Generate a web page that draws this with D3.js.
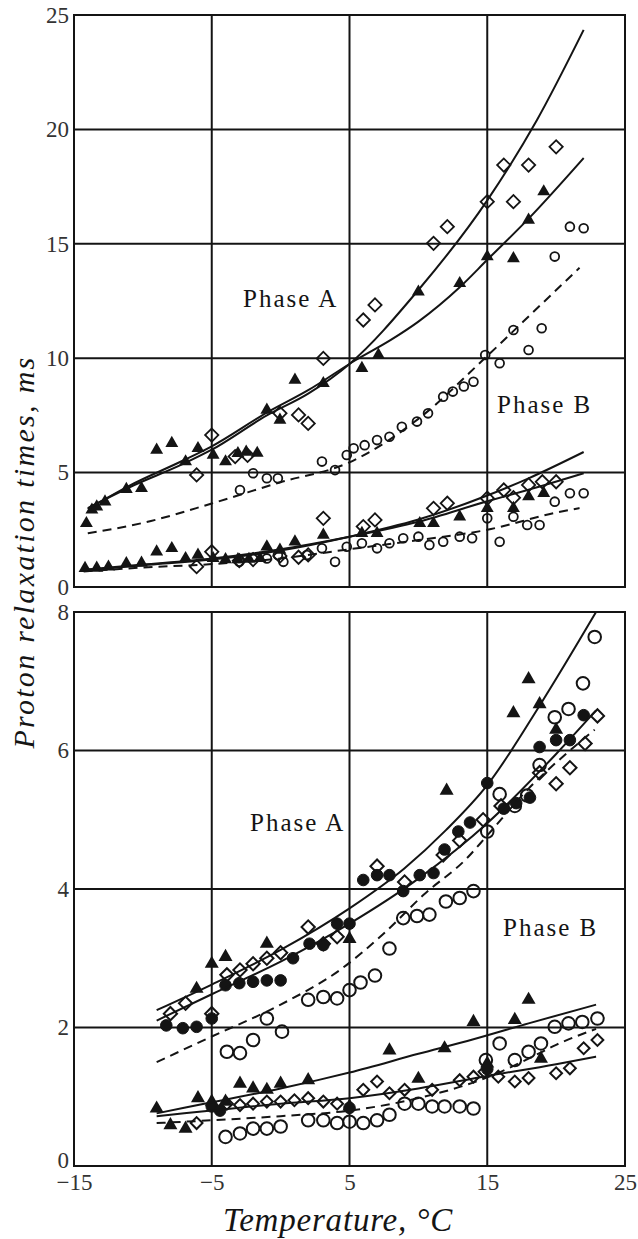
<!DOCTYPE html>
<html><head><meta charset="utf-8">
<script src="https://cdn.jsdelivr.net/npm/d3@7/dist/d3.min.js"></script>
<style>
html,body{margin:0;padding:0;background:#fff;}
svg{display:block;}
</style></head>
<body>
<svg id="chart" width="638" height="1239"></svg>
<script>
// ---------- tick labels ----------
const xTicks = [-15, -5, 5, 15, 25];
const topYTicks = [0, 5, 10, 15, 20, 25];
const botYTicks = [0, 2, 4, 6, 8];

// ---------- TOP PANEL : upper group ----------
const top1Triangles = [[-14.1,2.78],[-13.7,3.37],[-13.35,3.51],[-12.75,3.73],[-11.2,4.27],[-10.1,4.31],[-9.0,5.99],[-7.9,6.28],[-6.9,5.48],[-6.0,6.06],[-4.9,5.77],[-4.0,5.48],[-3.1,5.84],[-2.5,5.9],[-1.7,5.85],[-1.0,7.74],[-0.05,7.3],[1.04,9.05],[3.1,8.9],[5.9,9.56],[7.1,10.14],[10.0,12.9],[13.0,13.27],[15.0,14.44],[16.9,14.36],[18.0,16.04],[19.1,17.28]];
const top1Diamonds = [[-6.1,4.9],[-5.0,6.64],[-3.3,5.7],[-2.4,5.75],[-0.05,7.59],[1.3,7.52],[2.0,7.15],[3.1,9.99],[6.0,11.67],[6.85,12.33],[11.1,15.02],[12.1,15.75],[15.0,16.84],[16.2,18.44],[16.9,16.84],[18.0,18.44],[20.0,19.24]];
const top1Circles = [[-2.95,4.24],[-2.0,4.97],[-1.0,4.75],[-0.2,4.75],[3.0,5.48],[3.95,5.11],[4.8,5.77],[5.3,6.06],[6.1,6.2],[7.0,6.42],[7.9,6.57],[8.8,7.0],[9.9,7.23],[10.7,7.59],[11.8,8.32],[12.5,8.54],[13.3,8.76],[14.0,8.97],[14.85,10.14],[15.9,9.78],[16.9,11.23],[18.0,10.36],[18.95,11.31],[19.9,14.44],[21.0,15.75],[22.0,15.68]];
const top1CurveA = [[-14,3.45],[-11,4.35],[-7,5.4],[-5,6.0],[-1,7.5],[2,8.45],[5,9.75],[10,12.98],[15,16.9],[18.6,20.4],[22,24.35]];
const top1CurveB = [[-14,3.4],[-11,4.42],[-7,5.55],[-5,6.15],[-1,7.62],[2,8.6],[5.4,9.9],[8,10.8],[10,11.6],[13,13.1],[15,14.3],[18,16.1],[22,18.75]];
const top1Dashed = [[-14,2.35],[-10,2.8],[-5,3.65],[0,4.58],[5,5.45],[10,7.35],[15,10.1],[19,12.4],[21.7,13.95]];

// ---------- TOP PANEL : lower group ----------
const top2Triangles = [[-14.2,0.82],[-13.35,0.83],[-12.5,0.88],[-11.2,1.03],[-10.1,1.05],[-9.0,1.54],[-7.9,1.69],[-6.9,1.25],[-6.0,1.4],[-4.9,1.25],[-4.0,1.2],[-3.1,1.2],[-2.3,1.22],[-1.5,1.25],[-1.0,1.76],[-0.05,1.62],[1.04,1.98],[3.1,2.27],[5.9,2.35],[7.0,2.35],[10.1,2.78],[11.1,2.78],[13.0,3.07],[15.0,3.44],[16.9,3.44],[18.0,3.95],[19.1,4.1]];
const top2Diamonds = [[-6.1,0.89],[-5.0,1.54],[-3.0,1.15],[-2.0,1.2],[-0.05,1.35],[1.3,1.3],[2.0,1.4],[3.1,3.0],[6.0,2.64],[6.85,2.93],[11.1,3.44],[12.1,3.66],[15.0,3.88],[16.2,4.24],[16.9,3.9],[18.0,4.46],[19.0,4.6],[20.0,4.6]];
const top2Circles = [[-3.0,1.1],[-1.0,1.25],[-0.2,1.4],[0.2,1.1],[1.9,1.4],[3.0,1.69],[3.95,1.1],[4.8,1.76],[5.9,1.91],[7.0,1.69],[7.9,1.91],[8.9,2.13],[10.0,2.2],[10.8,1.84],[11.8,1.98],[13.0,2.2],[13.9,2.13],[15.0,3.0],[15.9,1.98],[16.9,3.07],[17.9,2.71],[18.8,2.71],[19.9,3.73],[21.0,4.1],[22.0,4.1]];
const top2CurveA = [[-14.3,0.72],[-10,0.95],[-5,1.2],[0,1.6],[5,2.2],[10,2.95],[15,4.0],[18,4.75],[22,5.9]];
const top2CurveB = [[-14.3,0.76],[-10,0.98],[-5,1.25],[0,1.65],[5,2.2],[10,2.85],[15,3.75],[18,4.25],[22,4.97]];
const top2Dashed = [[-14.3,0.68],[-10,0.85],[-5,1.0],[0,1.25],[5,1.65],[10,2.05],[15,2.5],[20,3.25],[21.7,3.45]];

// ---------- BOTTOM PANEL : upper group ----------
const bot1Triangles = [[-6.1,2.56],[-5.0,2.92],[-4.0,3.02],[-1.0,3.21],[5.0,3.28],[12.05,5.42],[16.9,6.54],[18.0,7.03],[18.8,6.67],[20.0,6.3]];
const bot1FilledCircles = [[-8.3,2.03],[-7.1,1.99],[-6.1,2.01],[-5.0,2.13],[-4.0,2.61],[-3.0,2.64],[-2.0,2.66],[-1.0,2.68],[0.0,2.68],[0.9,3.0],[2.1,3.21],[3.1,3.19],[4.1,3.5],[5.0,3.5],[6.0,4.13],[7.0,4.2],[7.9,4.2],[8.9,3.97],[10.1,4.2],[11.1,4.23],[11.9,4.57],[12.9,4.83],[13.75,4.96],[15.0,5.53],[16.2,5.16],[17.1,5.24],[18.1,5.32],[18.8,6.05],[20.0,6.15],[21.0,6.15],[22.0,6.51]];
const bot1Diamonds = [[-8.0,2.2],[-6.9,2.35],[-5.0,2.2],[-3.9,2.76],[-2.95,2.83],[-2.0,2.92],[-1.0,3.0],[0.0,3.08],[2.0,3.45],[3.1,3.21],[4.1,3.31],[7.0,4.33],[9.0,4.1],[11.8,4.49],[13.0,4.7],[14.7,5.0],[16.0,5.2],[18.8,5.68],[20.0,5.52],[21.0,5.75],[22.1,6.1],[23.0,6.5]];
const bot1Circles = [[-3.9,1.65],[-2.95,1.63],[-2.0,1.82],[-1.0,2.13],[0.1,1.94],[2.0,2.4],[3.1,2.44],[4.1,2.42],[5.0,2.54],[5.8,2.65],[6.85,2.75],[7.9,3.14],[8.9,3.58],[9.9,3.61],[10.8,3.63],[12.0,3.82],[13.0,3.87],[14.0,3.97],[15.0,4.83],[15.9,5.37],[17.0,5.2],[17.9,5.35],[18.8,5.79],[19.9,6.48],[20.9,6.6],[21.95,6.97],[22.8,7.64]];
const bot1CurveA = [[-9,2.25],[-5,2.62],[0,3.12],[5,3.72],[9,4.3],[12,4.85],[15,5.5],[18.9,6.68],[22.9,8.0]];
const bot1CurveB = [[-9,2.1],[-5,2.48],[0,2.95],[5,3.5],[10,4.15],[15,4.95],[20,5.95],[22.9,6.58]];
const bot1Dashed = [[-9,1.5],[-5,1.87],[0,2.33],[4.3,2.83],[7.45,3.35],[10.4,3.92],[13.5,4.44],[14.9,4.75],[18,5.45],[21,6.0],[22.8,6.3]];

// ---------- BOTTOM PANEL : lower group ----------
const bot2Triangles = [[-9.0,0.83],[-8.0,0.59],[-6.9,0.54],[-6.0,0.98],[-5.0,0.93],[-4.0,0.93],[-2.95,1.19],[-2.0,1.12],[-1.0,1.1],[0.0,1.19],[2.0,1.24],[5.0,0.86],[7.9,1.67],[10.0,1.26],[11.9,1.7],[14.0,2.08],[15.0,1.48],[17.0,2.11],[18.0,2.4],[18.9,1.55]];
const bot2FilledCircles = [[-5.0,0.86],[-4.4,0.8],[5.0,0.84],[15.0,1.4]];
const bot2Diamonds = [[-6.1,0.62],[-3.9,0.9],[-2.95,0.88],[-2.0,0.9],[-1.0,0.93],[0.0,0.93],[1.0,0.95],[2.0,0.98],[3.1,0.93],[4.1,0.9],[6.0,1.1],[7.0,1.22],[7.9,1.05],[9.0,1.1],[11.0,1.1],[13.0,1.24],[14.0,1.29],[14.8,1.36],[15.8,1.29],[17.0,1.22],[18.0,1.27],[20.0,1.34],[21.0,1.41],[22.0,1.7],[23.0,1.82]];
const bot2Circles = [[-4.0,0.42],[-2.95,0.47],[-2.0,0.54],[-1.0,0.54],[0.0,0.57],[2.0,0.66],[3.1,0.66],[4.1,0.62],[5.0,0.64],[6.0,0.62],[7.0,0.66],[7.9,0.74],[9.0,0.9],[10.0,0.9],[11.0,0.86],[11.9,0.86],[13.0,0.86],[14.0,0.83],[14.9,1.53],[15.9,1.77],[17.0,1.53],[18.0,1.65],[18.9,1.77],[19.9,2.01],[20.9,2.06],[21.9,2.08],[23.0,2.13]];
const bot2CurveA = [[-9,0.76],[-5,0.92],[0,1.12],[2.7,1.24],[5,1.35],[10,1.62],[14,1.83],[18,2.06],[22.9,2.33]];
const bot2CurveB = [[-9,0.72],[-5,0.8],[0,0.9],[5,0.98],[10,1.12],[15,1.3],[20,1.47],[22.9,1.58]];
const bot2Dashed = [[-9,0.62],[-5,0.66],[0,0.72],[5,0.8],[10,0.98],[15,1.28],[18,1.55],[20,1.75],[22.9,1.98]];

// ---------- drawing ----------
const svg = d3.select('#chart');
const INK = '#141414';
const FONT = "'Liberation Serif','Times New Roman',serif";

const x = d3.scaleLinear().domain([-15, 25]).range([74, 625]);
const yTop = d3.scaleLinear().domain([0, 25]).range([587, 15]);
const yBot = d3.scaleLinear().domain([0, 8]).range([1166, 612]);

function panel(y, yTicks, showX) {
  const g = svg.append('g');
  const [y0, y1] = y.range();
  g.append('g').selectAll('line').data(yTicks).join('line')
    .attr('x1', x.range()[0]).attr('x2', x.range()[1])
    .attr('y1', d => y(d)).attr('y2', d => y(d))
    .attr('stroke', INK).attr('stroke-width', 2);
  g.append('g').selectAll('line').data(xTicks).join('line')
    .attr('x1', d => x(d)).attr('x2', d => x(d))
    .attr('y1', y0).attr('y2', y1)
    .attr('stroke', INK).attr('stroke-width', 2);
  const ya = g.append('g').attr('transform', `translate(${x.range()[0]},0)`)
    .call(d3.axisLeft(y).tickValues(yTicks).tickSize(0).tickPadding(5).tickFormat(d3.format('d')));
  ya.select('.domain').remove();
  ya.selectAll('text').attr('font-family', FONT).attr('font-size', 23).attr('fill', '#333');
  if (showX) {
    // lift the bottom "0" a little, as in the reference, so it clears "−15"
    ya.selectAll('.tick').filter(d => d === 0).select('text').attr('dy', '0.05em');
    const xa = g.append('g').attr('transform', `translate(0,${y0})`)
      .call(d3.axisBottom(x).tickValues(xTicks).tickSize(0).tickPadding(8));
    xa.select('.domain').remove();
    xa.selectAll('text').attr('font-family', FONT).attr('font-size', 23).attr('fill', '#333');
  }
  return g;
}

const gTop = panel(yTop, topYTicks, false);
const gBot = panel(yBot, botYTicks, true);

function triangles(g, y, data, size) {
  g.append('g').selectAll('path').data(data).join('path')
    .attr('d', d3.symbol().type(d3.symbolTriangle).size(size))
    .attr('transform', d => `translate(${x(d[0])},${y(d[1])})`)
    .attr('fill', INK);
}
function diamonds(g, y, data, size, sw) {
  g.append('g').selectAll('path').data(data).join('path')
    .attr('d', d3.symbol().type(d3.symbolSquare).size(size))
    .attr('transform', d => `translate(${x(d[0])},${y(d[1])}) rotate(45)`)
    .attr('fill', 'none').attr('stroke', INK).attr('stroke-width', sw);
}
function circles(g, y, data, r, sw, filled) {
  g.append('g').selectAll('circle').data(data).join('circle')
    .attr('cx', d => x(d[0])).attr('cy', d => y(d[1])).attr('r', r)
    .attr('fill', filled ? INK : 'none')
    .attr('stroke', INK).attr('stroke-width', sw);
}
function curve(g, y, data, dashed) {
  const line = d3.line().x(d => x(d[0])).y(d => y(d[1])).curve(d3.curveMonotoneX);
  g.append('path').datum(data).attr('d', line)
    .attr('fill', 'none').attr('stroke', INK).attr('stroke-width', 2)
    .attr('stroke-dasharray', dashed ? '9,6' : null);
}

// top markers
circles(gTop, yTop, top1Circles, 4.4, 1.8, false);
circles(gTop, yTop, top2Circles, 4.4, 1.8, false);
diamonds(gTop, yTop, top1Diamonds, 88, 1.8);
diamonds(gTop, yTop, top2Diamonds, 88, 1.8);
triangles(gTop, yTop, top1Triangles, 72);
triangles(gTop, yTop, top2Triangles, 72);
[top1CurveA, top1CurveB, top2CurveA, top2CurveB].forEach(c => curve(gTop, yTop, c, false));
[top1Dashed, top2Dashed].forEach(c => curve(gTop, yTop, c, true));

// bottom markers
circles(gBot, yBot, bot1Circles, 6.3, 2, false);
circles(gBot, yBot, bot2Circles, 6.3, 2, false);
diamonds(gBot, yBot, bot1Diamonds, 88, 2);
diamonds(gBot, yBot, bot2Diamonds, 70, 2);
circles(gBot, yBot, bot1FilledCircles, 5.8, 1, true);
circles(gBot, yBot, bot2FilledCircles, 5.8, 1, true);
triangles(gBot, yBot, bot1Triangles, 85);
triangles(gBot, yBot, bot2Triangles, 85);
[bot1CurveA, bot1CurveB, bot2CurveA, bot2CurveB].forEach(c => curve(gBot, yBot, c, false));
[bot1Dashed, bot2Dashed].forEach(c => curve(gBot, yBot, c, true));

// panel borders
[yTop, yBot].forEach(y => {
  svg.append('rect').attr('x', x.range()[0]).attr('y', y.range()[1])
    .attr('width', x.range()[1] - x.range()[0]).attr('height', y.range()[0] - y.range()[1])
    .attr('fill', 'none').attr('stroke', INK).attr('stroke-width', 2);
});

// phase labels
const phaseLabels = [
  {t: 'Phase A', px: 243, py: 307},
  {t: 'Phase B', px: 497, py: 413},
  {t: 'Phase A', px: 250, py: 831},
  {t: 'Phase B', px: 503, py: 936}
];
svg.append('g').selectAll('text').data(phaseLabels).join('text')
  .attr('x', d => d.px).attr('y', d => d.py).text(d => d.t)
  .attr('font-family', FONT).attr('font-size', 25).attr('letter-spacing', 2)
  .attr('fill', INK);

// axis titles
svg.append('text').attr('x', 338).attr('y', 1231).attr('text-anchor', 'middle')
  .attr('font-family', FONT).attr('font-style', 'italic').attr('font-size', 33)
  .attr('letter-spacing', 0.8).attr('fill', INK).text('Temperature, °C');
svg.append('text').attr('transform', 'translate(34,552) rotate(-90)').attr('text-anchor', 'middle')
  .attr('font-family', FONT).attr('font-style', 'italic').attr('font-size', 30)
  .attr('letter-spacing', 2.3).attr('fill', INK).text('Proton relaxation times, ms');
</script>
</body></html>
